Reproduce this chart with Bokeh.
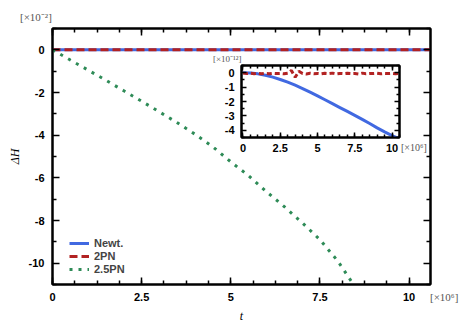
from bokeh.plotting import figure
from bokeh.models import (FixedTicker, LinearAxis, Range1d, Legend, LegendItem,
                          CustomJSTickFormatter, NumeralTickFormatter, Column, Div)
from bokeh.embed import file_html
from bokeh.resources import INLINE

# ---------------- data ----------------
# time in units of 1e6
t_newt = [0.0, 0.5, 1.0, 1.5, 2.0, 2.5, 3.0, 3.5, 4.0, 4.5, 5.0, 5.5, 6.0, 6.5,
          7.0, 7.5, 8.0, 8.5, 9.0, 9.5, 10.0, 10.5, 10.6]
# Newtonian energy error, units of 1e-12
newt_e12 = [0.0, -0.02, -0.08, -0.18, -0.31, -0.47, -0.66, -0.87, -1.10, -1.35, -1.61,
            -1.88, -2.15, -2.42, -2.69, -2.96, -3.24, -3.53, -3.83, -4.11, -4.37, -4.60, -4.65]

t_2pn = [0.0, 0.25, 0.5, 0.75, 1.0, 1.25, 1.5, 1.75, 2.0, 2.25, 2.5, 2.75, 3.0, 3.25,
         3.5, 3.75, 4.0, 4.25, 4.5, 4.75, 5.0, 5.25, 5.5, 5.75, 6.0, 6.25, 6.5, 6.75,
         7.0, 7.25, 7.5, 7.75, 8.0, 8.25, 8.5, 8.75, 9.0, 9.25, 9.5, 9.75, 10.0, 10.25, 10.6]
# 2PN energy error, units of 1e-12
pn2_e12 = [-0.03, -0.06, -0.03, -0.07, -0.04, -0.08, -0.05, -0.07, -0.04, -0.06, -0.05,
           -0.08, -0.04, 0.15, -0.32, 0.10, -0.06, -0.09, -0.04, -0.07, -0.05, -0.08,
           -0.04, -0.06, -0.03, -0.08, -0.05, -0.07, -0.04, -0.06, -0.05, -0.09, -0.03,
           -0.07, -0.05, -0.06, -0.04, -0.08, -0.05, -0.06, -0.04, -0.07, -0.05]

# 2.5PN energy error, units of 1e-2
t_25pn = [0.0, 0.5, 1.0, 1.5, 2.0, 2.5, 3.0, 3.5, 4.0, 4.5, 5.0, 5.5, 6.0, 6.5, 7.0,
          7.5, 8.0, 8.5]
pn25_e2 = [0.0, -0.48, -0.95, -1.43, -1.92, -2.41, -2.91, -3.42, -3.96, -4.55, -5.25,
           -5.90, -6.65, -7.35, -8.10, -8.90, -9.90, -11.15]

# main panel uses units of 1e-2
newt_e2 = [v * 1e-10 for v in newt_e12]
pn2_e2 = [v * 1e-10 for v in pn2_e12]

x_major = [0, 2.5, 5, 7.5, 10]
x_minor_main = [0.625 * i for i in range(18)]
y_major_main = [0, -2, -4, -6, -8, -10]
y_minor_main = [1, -1, -3, -5, -7, -9, -11]
x_minor_inset = [0.5 * i for i in range(22)]
y_major_inset = [0, -1, -2, -3, -4]
y_minor_inset = [0.5, -0.5, -1.5, -2.5, -3.5, -4.5]

BLUE = "#4169e1"
RED = "#b22222"
GREEN = "#2e8b57"
SANS = "Liberation Sans"
SERIF = "Liberation Serif"
W, H = 464, 330


def style_axis(ax, major, minor, tin, mtin, labels=True, fmt="0"):
    ax.ticker = FixedTicker(ticks=major, minor_ticks=minor)
    ax.major_tick_in = tin
    ax.major_tick_out = 0
    ax.minor_tick_in = mtin
    ax.minor_tick_out = 0
    ax.axis_line_width = 2
    ax.major_tick_line_width = 1.5
    ax.minor_tick_line_width = 1.5
    ax.major_label_text_font = SANS
    ax.major_label_text_font_style = "bold"
    ax.major_label_text_font_size = "11px"
    ax.major_label_text_color = "black"
    if labels:
        ax.formatter = NumeralTickFormatter(format=fmt)
    else:
        ax.formatter = CustomJSTickFormatter(code="return ''")
        ax.major_label_standoff = 0


p = figure(width=W, height=H, x_range=Range1d(0, 10.6), y_range=Range1d(-11, 1),
           output_backend="svg", toolbar_location=None,
           min_border_left=51, min_border_right=33, min_border_top=28, min_border_bottom=46)
p.grid.visible = False
p.outline_line_color = "black"
p.outline_line_width = 2
p.background_fill_color = "white"
p.border_fill_color = "white"

style_axis(p.xaxis[0], x_major, x_minor_main, 7, 4, fmt="0.[0]")
style_axis(p.yaxis[0], y_major_main, y_minor_main, 7, 4, fmt="0")
p.xaxis[0].major_label_standoff = 8
p.yaxis[0].major_label_standoff = 8
p.xaxis[0].axis_label = "t"
p.yaxis[0].axis_label = "ΔH"
for ax in (p.xaxis[0], p.yaxis[0]):
    ax.axis_label_text_font = SERIF
    ax.axis_label_text_font_style = "italic"
    ax.axis_label_text_font_size = "12px"
    ax.axis_label_text_color = "black"
p.xaxis[0].axis_label_standoff = 5
p.yaxis[0].axis_label_standoff = 4

top_ax = LinearAxis()
style_axis(top_ax, x_major, x_minor_main, 7, 4, labels=False)
p.add_layout(top_ax, "above")
right_ax = LinearAxis()
style_axis(right_ax, y_major_main, y_minor_main, 7, 4, labels=False)
p.add_layout(right_ax, "right")

r_newt = p.line(t_newt, newt_e2, line_color=BLUE, line_width=3)
r_2pn = p.line(t_2pn, pn2_e2, line_color=RED, line_width=3, line_dash="8 4")
r_25 = p.line(t_25pn, pn25_e2, line_color=GREEN, line_width=3, line_dash="3 6")

legend = Legend(items=[LegendItem(label="Newt.", renderers=[r_newt]),
                       LegendItem(label="2PN", renderers=[r_2pn]),
                       LegendItem(label="2.5PN", renderers=[r_25])],
                location=(17, 9), orientation="vertical",
                label_text_font=SANS, label_text_font_style="bold",
                label_text_font_size="11px", glyph_width=20, glyph_height=12,
                label_height=12, label_standoff=5, spacing=1, padding=0, margin=0,
                background_fill_alpha=0, border_line_alpha=0)
p.add_layout(legend, "center")

# ---------------- inset ----------------
q = figure(width=244, height=106, x_range=Range1d(-0.1, 10.5), y_range=Range1d(-4.5, 0.5),
           output_backend="svg", toolbar_location=None,
           min_border_left=52, min_border_right=34, min_border_top=15, min_border_bottom=19)
q.grid.visible = False
q.outline_line_color = "black"
q.outline_line_width = 2
q.background_fill_color = "white"
q.border_fill_alpha = 0

style_axis(q.xaxis[0], x_major, x_minor_inset, 5, 3, fmt="0.[0]")
style_axis(q.yaxis[0], y_major_inset, y_minor_inset, 5, 3, fmt="0")
q.xaxis[0].major_label_standoff = 6
q.yaxis[0].major_label_standoff = 7
qt = LinearAxis()
style_axis(qt, x_major, x_minor_inset, 5, 3, labels=False)
q.add_layout(qt, "above")
qr = LinearAxis()
style_axis(qr, y_major_inset, y_minor_inset, 5, 3, labels=False)
q.add_layout(qr, "right")

q.line(t_newt, newt_e12, line_color=BLUE, line_width=3)
q.line(t_2pn, pn2_e12, line_color=RED, line_width=3, line_dash="5 3")

# ---------------- overlay placement (page coordinates) ----------------
children = [p]
cursor = H


def place(el, x0, y0, h):
    global cursor
    el.margin = (y0 - cursor, 0, 0, x0)
    cursor = y0 + h
    children.append(el)


def mult_div(text, size, w):
    return Div(text=text, width=w, height=12,
               styles={"font-family": SERIF, "font-size": size, "color": "#555555",
                       "line-height": "12px", "white-space": "nowrap"})


place(q, 189, 50, 106)
place(mult_div("[×10⁻²]", "11px", 40), 20, 11, 12)
place(mult_div("[×10⁶]", "11px", 34), 430, 291, 12)
place(mult_div("[×10⁻¹²]", "9px", 36), 213, 53, 12)
place(mult_div("[×10⁶]", "10px", 32), 401, 142, 12)

layout = Column(children=children)
open("out.html", "w").write(file_html(layout, INLINE))
